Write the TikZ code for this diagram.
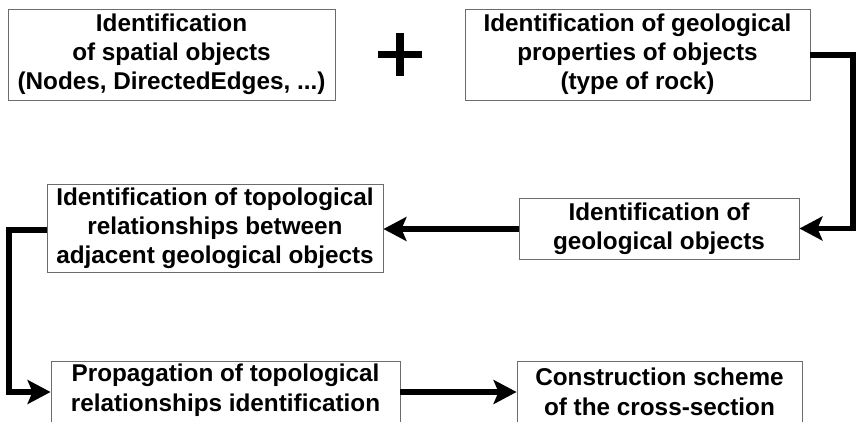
\documentclass[tikz,border=0pt]{standalone}
\usepackage{fontspec}
\setmainfont{Liberation Sans}
\usetikzlibrary{arrows.meta}

\tikzset{
  stepbox/.style={draw=gray!85!black, line width=0.9pt, fill=white,
    align=center, inner sep=0pt, font=\bfseries\fontsize{24.3}{29}\selectfont},
  boxtext/.style={align=center, inner sep=0pt,
    font=\bfseries\fontsize{24.3}{30}\selectfont},
  flow/.style={line width=5.5pt, line join=miter,
    -{Stealth[length=23pt, width=24pt, inset=5pt]}},
}

\begin{document}
\begin{tikzpicture}[x=1pt, y=-1pt]
  \useasboundingbox (0,0) rectangle (856,421);
  \clip (0,0) rectangle (856,421);

  % first row: the two inputs
  \node[stepbox, minimum width=327pt, minimum height=91pt] (spatial) at (171.5,54.5)
    {Identification\\of spatial objects\\(Nodes, DirectedEdges, ...)};
  \node[stepbox, minimum width=345pt, minimum height=91pt] (props) at (637.5,54.5)
    {Identification of geological\\properties of objects\\(type of rock)};

  % the plus sign between them
  \fill[black] (378,51) rectangle (422,58);
  \fill[black] (396,33) rectangle (404,76);

  % second row
  \node[stepbox, minimum width=280pt, minimum height=61pt] (geobj) at (659,228.5)
    {Identification of\\geological objects};
  \node[stepbox, minimum width=336pt, minimum height=88pt] (topo) at (215,228.5)
    {Identification of topological\\relationships between\\adjacent geological objects};

  % third row (boxes run past the lower edge)
  \node[stepbox, minimum width=349pt, minimum height=90pt, anchor=north] (prop) at (225.5,361) {};
  \node[boxtext] (propT) at (225.5,390)
    {Propagation of topological\\relationships identification};
  \node[stepbox, minimum width=285pt, minimum height=90pt, anchor=north] (cons) at (659.5,361) {};
  \node[boxtext] (consT) at (659.5,392)
    {Construction scheme\\of the cross-section};

  % connectors
  \coordinate (r1) at (853,55);
  \coordinate (r2) at (853,228.5);
  \draw[flow] (props.east |- r1) -- (r1) -- (r2) -- (geobj.east |- r2);
  \draw[flow] (geobj.west |- 0,229) -- (topo.east |- 0,229);
  \coordinate (l1) at (9,230);
  \coordinate (l2) at (9,392);
  \draw[flow] (topo.west |- l1) -- (l1) -- (l2) -- (prop.west |- l2);
  \draw[flow] (prop.east |- l2) -- (cons.west |- l2);
\end{tikzpicture}
\end{document}
